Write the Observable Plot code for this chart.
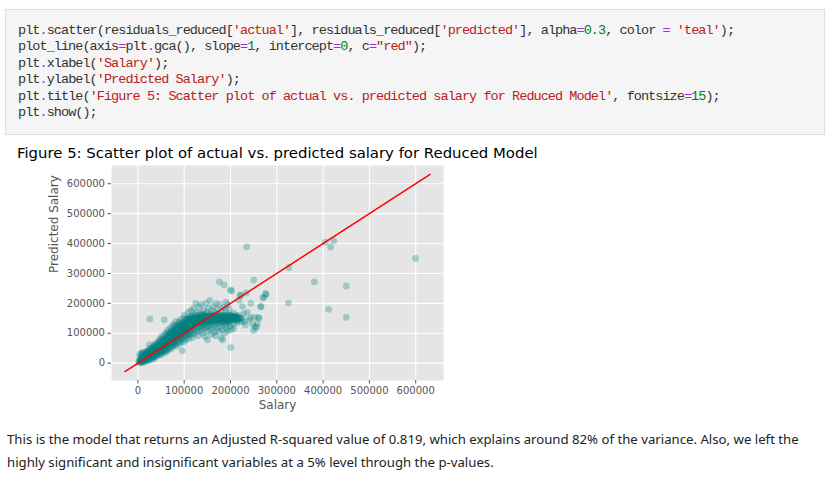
<!DOCTYPE html>
<html>
<head>
<meta charset="utf-8">
<script src="https://cdn.jsdelivr.net/npm/d3@7"></script>
<script src="https://cdn.jsdelivr.net/npm/@observablehq/plot@0.6"></script>
<style>
  html, body { margin: 0; padding: 0; background: #fff; width: 832px; height: 482px; overflow: hidden; position: relative; }
  #code { position: absolute; left: 5px; top: 9px; width: 818px; height: 124px; background: #f5f5f5; border: 1px solid #e0e0e0; }
  #codelines { position: absolute; left: 12px; top: 13px; font-family: "Liberation Mono", "DejaVu Sans Mono", monospace; font-size: 13.5px; line-height: 16.4px; color: #333; }
  #codelines .ln { height: 16.4px; white-space: pre; }
  .o { color: #aa22ff; }
  .s { color: #ba2121; }
  .n { color: #008000; }
  #title { position: absolute; left: 17px; top: 143px; font-family: "DejaVu Sans", sans-serif; font-size: 15px; line-height: 20px; color: #000; white-space: nowrap; }
  #chart { position: absolute; left: 20px; top: 160px; }
  #para { position: absolute; left: 7px; top: 428px; font-family: "Noto Sans", "Open Sans", sans-serif; font-size: 13px; line-height: 23px; color: #222; white-space: nowrap; }
  #para div { height: 23px; }
</style>
</head>
<body>
<div id="code"><div id="codelines"><div class="ln" id="l1"><span>plt</span><span class="o">.</span><span>scatter(residuals_reduced[</span><span class="s">'actual'</span><span>], residuals_reduced[</span><span class="s">'predicted'</span><span>], alpha</span><span class="o">=</span><span class="n">0.3</span><span>, color </span><span class="o">=</span><span> </span><span class="s">'teal'</span><span>);</span></div><div class="ln"><span>plot_line(axis</span><span class="o">=</span><span>plt</span><span class="o">.</span><span>gca(), slope</span><span class="o">=</span><span class="n">1</span><span>, intercept</span><span class="o">=</span><span class="n">0</span><span>, c</span><span class="o">=</span><span class="s">"red"</span><span>);</span></div><div class="ln"><span>plt</span><span class="o">.</span><span>xlabel(</span><span class="s">'Salary'</span><span>);</span></div><div class="ln"><span>plt</span><span class="o">.</span><span>ylabel(</span><span class="s">'Predicted Salary'</span><span>);</span></div><div class="ln"><span>plt</span><span class="o">.</span><span>title(</span><span class="s">'Figure 5: Scatter plot of actual vs. predicted salary for Reduced Model'</span><span>, fontsize</span><span class="o">=</span><span class="n">15</span><span>);</span></div><div class="ln"><span>plt</span><span class="o">.</span><span>show();</span></div></div></div>
<div id="title"></div>
<div id="chart"></div>
<div id="para"><div id="p1"></div><div id="p2"></div></div>
<script>
// ---- texts ----
const chartTitle = "Figure 5: Scatter plot of actual vs. predicted salary for Reduced Model";
const xLabel = "Salary";
const yLabel = "Predicted Salary";
const paraLines = [
  "This is the model that returns an Adjusted R-squared value of 0.819, which explains around 82% of the variance. Also, we left the",
  "highly significant and insignificant variables at a 5% level through the p-values."
];
// ---- tick values ----
const xTicks = [0, 100000, 200000, 300000, 400000, 500000, 600000];
const yTicks = [0, 100000, 200000, 300000, 400000, 500000, 600000];
// ---- reference line y = x (slope 1, intercept 0), endpoints in $ ----
const lineX = [-28000, 631000];
const lineY = [-28000, 631000];
// ---- [actual, predicted] salary, in $1000s ----
const actualVsPredicted = [
[2,4],[3,10],[4,1],[5,7],[5,18],[6,12],[7,3],[7,25],[8,15],[8,6],[9,30],[10,10],[10,20],[11,2],[12,14],[12,34],[13,8],[13,24],[14,18],[15,5],[15,28],[16,12],[16,38],[17,20],[18,9],[18,30],[19,16],[20,24],[20,40],[21,12],[22,30],[22,19],[23,8],[24,36],[24,22],[25,15],[25,45],[26,28],[27,20],[28,34],[28,12],[29,48],[30,25],[30,38],[26,148],[8,35],[4,30],[25,62],
[11,16],[12,22],[14,10],[14,30],[16,24],[17,14],[18,22],[19,36],[20,16],[21,28],[22,42],[23,26],[24,14],[25,32],[26,40],[26,20],[27,50],[28,26],[29,36],[30,18],
[31,18],[32,30],[32,44],[33,52],[34,24],[34,36],[35,14],[35,60],[36,40],[37,28],[37,50],[38,33],[38,66],[39,22],[40,45],[40,56],[41,36],[41,30],[42,62],[42,48],[43,26],[43,40],[44,70],[44,54],[45,34],[45,46],[46,58],[46,76],[47,30],[47,42],[48,64],[48,52],[49,38],[49,82],[50,48],[50,60],[50,28],[51,70],[51,40],[52,56],[52,90],[53,44],[53,66],[54,34],[54,76],[55,52],[55,62],[56,86],[56,40],[57,72],[57,145],[58,50],[58,96],[59,60],[59,36],[60,80],[60,68],[60,46],
[31,44],[32,22],[33,38],[34,56],[35,30],[36,48],[36,24],[37,40],[38,54],[39,44],[39,32],[40,38],[41,52],[42,40],[43,58],[44,46],[45,64],[46,38],[47,54],[48,44],[49,70],[50,54],[51,62],[52,46],[53,78],[54,58],[55,44],[56,68],[57,56],[58,80],[59,66],[60,56],
[61,56],[61,100],[62,74],[62,40],[63,88],[63,62],[64,50],[64,110],[65,78],[65,68],[66,94],[66,44],[67,58],[67,84],[68,104],[68,72],[69,52],[69,90],[70,64],[70,80],[70,118],[71,96],[71,48],[72,76],[72,108],[73,60],[73,88],[74,100],[74,70],[75,125],[75,82],[75,54],[76,92],[76,66],[77,112],[77,78],[78,86],[78,130],[79,60],[79,98],[80,72],[80,106],[80,90],[81,120],[81,64],[82,84],[82,140],[83,96],[83,76],[84,110],[84,58],[85,88],[85,126],[86,100],[86,70],[87,116],[87,82],[88,94],[88,136],[89,78],[89,104],[90,120],[90,66],[90,90],
[61,70],[62,86],[63,76],[64,64],[65,96],[66,80],[67,70],[68,92],[69,74],[70,100],[71,84],[72,68],[73,104],[74,86],[75,96],[76,110],[77,90],[78,74],[79,112],[80,96],[81,86],[82,104],[83,120],[84,92],[85,104],[86,124],[87,96],[88,110],[89,124],[90,104],
[91,110],[91,145],[92,84],[92,128],[93,100],[93,72],[94,118],[94,92],[95,136],[95,80],[96,42],[96,108],[97,124],[97,96],[98,150],[98,86],[99,114],[99,70],[100,130],[100,100],[100,160],[101,90],[101,120],[102,140],[102,108],[103,78],[103,126],[104,96],[104,150],[105,116],[105,134],[106,88],[106,104],[107,142],[107,124],[108,112],[108,170],[109,96],[109,136],[110,120],[110,148],[110,82],[111,104],[111,130],[112,156],[112,116],[113,140],[113,94],[114,126],[114,110],[115,150],[115,176],[116,132],[116,100],[117,118],[117,144],[118,160],[118,86],[119,128],[119,140],[120,112],[120,152],[120,182],
[91,92],[92,112],[93,130],[94,104],[95,120],[96,130],[97,110],[98,132],[99,100],[100,116],[101,138],[102,122],[103,112],[104,132],[105,146],[106,122],[107,110],[108,134],[109,148],[110,132],[111,144],[112,128],[113,150],[114,140],[115,124],[116,150],[117,136],[118,146],[119,156],[120,138],
[121,136],[121,98],[122,146],[122,122],[123,160],[123,130],[124,110],[124,150],[125,140],[125,200],[126,126],[126,156],[127,144],[127,104],[128,170],[128,134],[129,150],[129,118],[130,142],[130,160],[130,92],[131,130],[131,152],[132,146],[132,188],[133,120],[133,140],[134,156],[134,108],[135,148],[135,166],[136,134],[136,150],[137,124],[137,196],[138,144],[138,158],[139,112],[139,150],[140,140],[140,164],[140,100],[141,152],[141,130],[142,146],[142,176],[143,120],[143,156],[144,150],[144,136],[145,162],[145,90],[146,148],[146,128],[147,154],[147,200],[148,140],[148,118],[149,152],[149,170],[150,146],[150,132],[150,78],[151,156],[151,108],[152,150],[152,184],[153,142],[153,124],[154,158],[154,150],[155,136],[155,210],[156,152],[156,112],[157,146],[157,164],[158,154],[158,128],[159,148],[159,96],[160,150],[160,176],
[122,136],[124,144],[126,150],[128,142],[130,150],[132,136],[134,144],[136,160],[138,134],[140,150],[142,140],[144,144],[146,156],[148,150],[150,156],[152,140],[154,144],[156,160],[158,140],[160,142],
[161,140],[161,156],[162,152],[162,120],[163,190],[163,148],[164,144],[164,134],[165,156],[165,104],[166,150],[166,168],[167,146],[167,126],[168,154],[168,92],[169,150],[169,200],[170,140],[170,158],[171,152],[171,116],[172,148],[172,180],[173,132],[173,156],[174,150],[174,106],[175,144],[175,164],[176,154],[176,272],[177,136],[177,196],[178,150],[178,120],[179,158],[179,146],[180,150],[180,84],[181,140],[181,170],[182,154],[182,112],[183,148],[183,78],[184,160],[184,134],[185,150],[185,186],[186,262],[186,144],[187,156],[187,100],[188,150],[188,124],[189,142],[189,174],[190,152],[190,204],[191,148],[191,132],[192,156],[192,116],[193,150],[193,162],[194,138],[194,196],[195,152],[195,108],[196,146],[196,136],[197,158],[197,180],[198,150],[199,124],[199,160],[200,244],[200,150],[201,52],[201,140],[202,156],[202,112],[203,150],[203,242],[204,146],[205,152],[205,130],[206,158],[206,168],[207,148],[207,117],[208,154],[209,150],[209,144],[210,156],[210,150],[211,153],[211,148],[212,150],[212,158],[213,152],[213,140],[214,155],[215,150],[215,136],[216,160],[217,148],[218,210],[219,146],[220,152],[221,228],[222,226],[222,150],[224,138],[225,150],[226,190],[228,165],[230,140],[232,128],[234,235],[235,389],[236,170],[240,145],[243,152],[244,200],[248,130],[250,278],[250,109],[251,153],[253,120],[256,120],[258,131],[260,153],[262,150],[265,188],[266,190],[270,218],[272,221],[276,233],[277,230],
[162,160],[164,152],[166,142],[168,160],[170,150],[172,140],[174,158],[176,144],[178,160],[180,144],[182,138],[184,150],[186,154],[188,140],[190,160],[192,146],[194,150],[196,156],[198,142],[200,160],[204,154],[208,146],[212,154],
[6,8],[9,12],[12,18],[15,20],[18,24],[21,26],[24,30],[27,32],[30,34],[33,36],[36,38],[39,42],[42,44],[45,50],[48,56],[51,58],[54,62],[57,64],[60,62],[63,70],[66,72],[69,78],[72,82],[75,86],[78,92],[81,94],[84,100],[87,106],[90,110],[93,112],[96,118],[99,122],[102,128],[105,124],[108,130],[111,136],[114,132],[117,140],[120,144],[123,148],[126,140],[129,146],[132,150],[135,142],[138,152],[141,146],[144,158],[147,148],[150,152],[153,146],[156,150],[159,156],[162,146],[165,150],[168,148],[171,156],[174,146],[177,152],[180,156],[183,144],[186,150],[189,154],[192,152],[195,148],[198,154],[201,150],[204,150],[207,152],[210,152],[213,148],
[8,10],[11,8],[14,22],[17,26],[20,20],[23,32],[26,26],[29,30],[32,40],[35,34],[38,46],[41,40],[44,50],[47,48],[50,52],[53,56],[56,60],[59,72],[62,66],[65,74],[68,80],[71,76],[74,90],[77,84],[80,88],[83,102],[86,94],[89,112],[92,102],[95,110],[98,116],[101,110],[104,122],[107,130],[110,126],[113,134],[116,128],[119,136],
[326,319],[325,201],[381,272],[405,405],[416,388],[423,409],[412,180],[450,258],[450,153],[600,350]
];

// ---- fit text widths to the reference layout ----
function textWidth(text, font) {
  const c = document.createElement("canvas").getContext("2d");
  c.font = font;
  return c.measureText(text).width;
}
// code block: first line spans ~716px
(function () {
  const l1 = document.getElementById("l1").textContent;
  const w = textWidth(l1, '13.5px "Liberation Mono"');
  const ls = (716 - w) / l1.length;
  document.getElementById("codelines").style.letterSpacing = ls + "px";
})();
// title ~521px wide
(function () {
  const el = document.getElementById("title");
  el.textContent = chartTitle;
  const w = textWidth(chartTitle, '15px "DejaVu Sans"');
  el.style.fontSize = (15 * 521 / w) + "px";
})();
// paragraph: first line ~793px wide
(function () {
  document.getElementById("p1").textContent = paraLines[0];
  document.getElementById("p2").textContent = paraLines[1];
  const w = textWidth(paraLines[0], '13px "Noto Sans"');
  document.getElementById("para").style.fontSize = (13 * 793 / w) + "px";
})();

// ---- chart ----
const lineData = lineX.map((x, i) => ({x, y: lineY[i]}));
const chart = Plot.plot({
  width: 440,
  height: 260,
  marginLeft: 91,
  marginRight: 17,
  marginTop: 5,
  marginBottom: 40,
  style: {background: "transparent", fontFamily: "DejaVu Sans", fontSize: "10px", color: "#555", overflow: "visible"},
  x: {domain: [-57000, 660000], label: null},
  y: {domain: [-58000, 661000], label: null},
  marks: [
    Plot.frame({fill: "#e5e5e5", stroke: null}),
    Plot.gridX({ticks: xTicks, stroke: "#fff", strokeOpacity: 1, strokeWidth: 1.1}),
    Plot.gridY({ticks: yTicks, stroke: "#fff", strokeOpacity: 1, strokeWidth: 1.1}),
    Plot.axisX({ticks: xTicks, tickSize: 3.5, tickPadding: 3, tickFormat: d => String(d), stroke: "#555", fill: "#555", label: null}),
    Plot.axisY({ticks: yTicks, tickSize: 3.5, tickPadding: 3, tickFormat: d => String(d), stroke: "#555", fill: "#555", label: null}),
    Plot.dot(actualVsPredicted, {x: d => d[0] * 1000, y: d => d[1] * 1000, r: 3.4, fill: "teal", fillOpacity: 0.3, stroke: null}),
    Plot.line(lineData, {x: "x", y: "y", stroke: "red", strokeWidth: 1.5}),
    Plot.text([xLabel], {frameAnchor: "bottom", dy: 28, text: d => d, fontSize: 12, fill: "#555"}),
    Plot.text([yLabel], {frameAnchor: "left", dx: -57, rotate: -90, text: d => d, fontSize: 12, fill: "#555"})
  ]
});
document.getElementById("chart").appendChild(chart);
</script>
</body>
</html>
